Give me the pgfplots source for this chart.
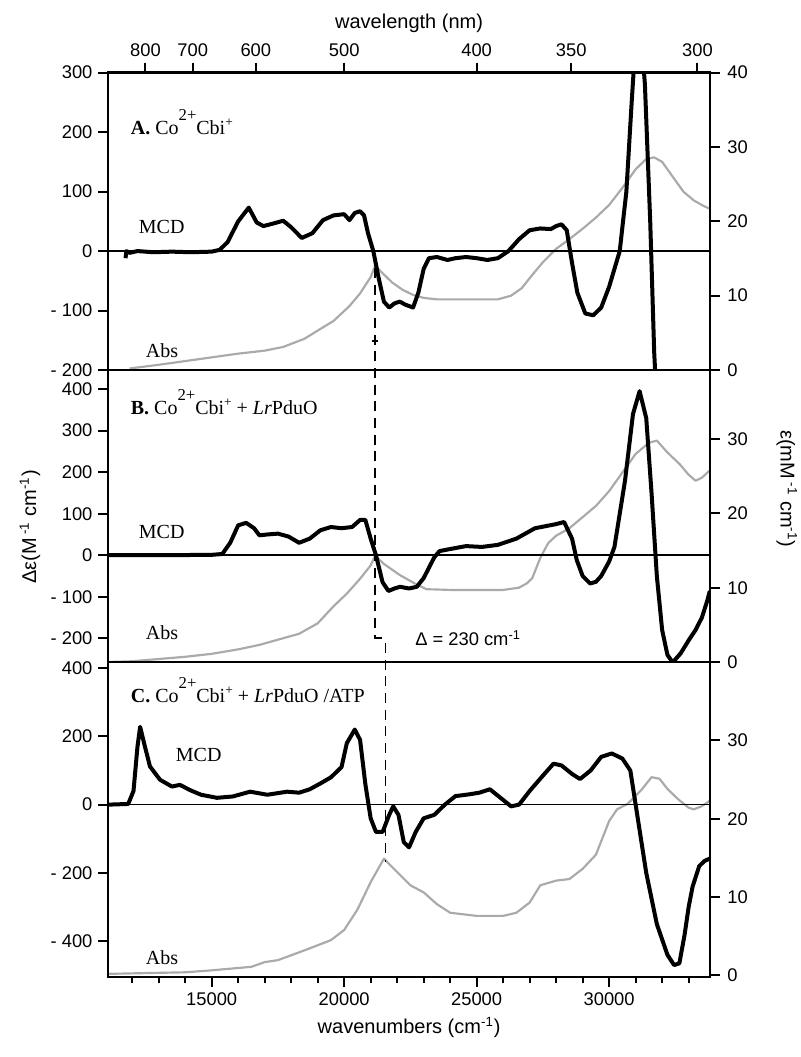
\documentclass[border=0pt]{standalone}
\usepackage{fontspec}
\setmainfont{Liberation Sans}
\newfontfamily\tnr{Liberation Serif}
\usepackage{pgfplots}
\pgfplotsset{compat=1.18}
\definecolor{absgray}{RGB}{170,170,170}
\newcommand{\supA}[1]{\raisebox{8.5pt}{\fontsize{10}{10}\selectfont #1}}
\newcommand{\supB}[1]{\raisebox{5pt}{\fontsize{8}{8}\selectfont #1}}
\pgfplotsset{
  panel/.style={
    scale only axis, width=360.9pt, xmin=11100, xmax=33800,
    scaled x ticks=false, scaled y ticks=false,
    axis line style={line width=1.4pt},
    tick style={line width=1.2pt, black},
    tick align=outside,
    major tick length=6pt,
    minor tick length=3.5pt,
    ticklabel style={font=\fontsize{11}{11}\selectfont},
    /pgf/number format/assume math mode=true,
    anchor=south west,
  },
  mcd/.style={black, line width=2.4pt, line join=round},
  abs/.style={absgray, line width=1.3pt, line join=round},
  rightax/.style={panel, axis x line=none, axis y line*=right, ymin=0, ymax=40,
    yticklabel style={xshift=1pt}},
}
\begin{document}
\begin{tikzpicture}
\path[use as bounding box] (-65pt,-48pt) rectangle (415pt,586.2pt);
% ---------------- Panel A ----------------
\begin{axis}[rightax, at={(0pt,364.2pt)}, height=178.4pt, ytick={0,10,20,30,40}]
\addplot[abs] coordinates {(11900,0.2)(13000,0.7)(14000,1.2)(15000,1.7)(16000,2.2)(17000,2.6)(17700,3.1)(18500,4.2)(19000,5.3)(19600,6.6)(20200,8.6)(20600,10.3)(21000,12.5)(21165,14)(21400,13.2)(21800,11.8)(22200,10.8)(22600,10.1)(23000,9.7)(23500,9.5)(24000,9.5)(25000,9.5)(25800,9.5)(26300,10)(26700,11)(27100,12.8)(27500,14.5)(28000,16.3)(28500,17.6)(29000,19)(29500,20.5)(30000,22.2)(30500,24.5)(31000,27)(31400,28.4)(31700,28.6)(32000,28)(32400,26)(32800,24)(33200,22.8)(33600,22)(33800,21.7)};
\end{axis}
\begin{axis}[panel, at={(0pt,364.2pt)}, height=178.4pt, ymin=-200, ymax=300,
  ytick={-200,-100,0,100,200,300}, yticklabels={- 200,- 100,0,100,200,300}, ytick pos=left,
  xtick={12500,14285.7,16666.7,20000,25000,28571.4,33333.3},
  xticklabels={800,700,600,500,400,350,300}, xtick pos=top, xticklabel pos=top,
  xlabel={wavelength (nm)}, xlabel style={font=\fontsize{12}{12}\selectfont}]
\addplot[black, line width=0.9pt] coordinates {(11100,0)(33800,0)};
\addplot[mcd] coordinates {(11750,-12)(11780,0)(11900,-3)(12200,0)(12800,-2)(13500,-1)(14200,-2)(15000,-1)(15300,2)(15600,15)(16000,50)(16400,73)(16700,48)(16950,42)(17300,46)(17700,51)(18000,40)(18400,22)(18800,30)(19200,52)(19600,60)(20000,62)(20200,52)(20400,64)(20600,67)(20750,60)(20900,30)(21100,0)(21300,-45)(21500,-85)(21700,-95)(21900,-88)(22100,-85)(22300,-90)(22600,-95)(22800,-70)(23000,-30)(23200,-12)(23500,-10)(23900,-15)(24200,-12)(24600,-10)(25000,-12)(25400,-15)(25800,-12)(26200,0)(26600,20)(27000,35)(27400,38)(27800,37)(28000,42)(28200,45)(28400,35)(28600,-20)(28800,-70)(29100,-105)(29400,-108)(29700,-95)(30000,-60)(30400,0)(30650,100)(30850,250)(30950,320)(31150,400)(31350,280)(31550,50)(31700,-170)(31800,-260)};
\end{axis}
% ---------------- Panel B ----------------
\begin{axis}[rightax, at={(0pt,189pt)}, height=175.2pt, ymax=39.3, ytick={0,10,20,30}]
\addplot[abs] coordinates {(11100,0)(12000,0.1)(13000,0.4)(14000,0.7)(15000,1.1)(16000,1.7)(16800,2.3)(17500,3.0)(18300,3.8)(19000,5.2)(19600,7.5)(20100,9.2)(20600,11.2)(21000,13)(21165,14.3)(21500,13.2)(22100,11.7)(22700,10.5)(23100,9.8)(24000,9.7)(25000,9.7)(26000,9.7)(26600,10)(26900,10.6)(27100,11.3)(27400,14)(27700,16)(28000,17)(28500,18)(29000,19.5)(29500,21)(30000,23)(30500,25.5)(31000,28)(31500,29.5)(31800,29.8)(32200,28.2)(32670,26.6)(33000,25.2)(33260,24.4)(33500,24.8)(33800,25.8)};
\end{axis}
\begin{axis}[panel, at={(0pt,189pt)}, height=175.2pt, ymin=-257, ymax=446,
  ytick={-200,-100,0,100,200,300,400}, yticklabels={- 200,- 100,0,100,200,300,400}, ytick pos=left,
  xtick=\empty]
\addplot[black, line width=0.9pt] coordinates {(11100,0)(33800,0)};
\addplot[mcd] coordinates {(11100,0)(13000,0)(15000,1)(15400,3)(15700,30)(16000,72)(16300,78)(16600,65)(16800,48)(17100,50)(17500,52)(17900,45)(18300,30)(18700,40)(19100,60)(19500,68)(19900,65)(20300,68)(20600,85)(20800,85)(21000,40)(21200,0)(21450,-65)(21670,-86)(21900,-80)(22110,-76)(22450,-80)(22740,-76)(23000,-55)(23200,-30)(23400,-5)(23600,10)(24000,15)(24600,22)(25200,20)(25800,25)(26500,40)(27200,65)(27600,70)(28000,75)(28300,80)(28600,40)(28780,-12)(29000,-50)(29280,-68)(29500,-64)(29700,-50)(30000,-15)(30200,20)(30600,180)(30900,340)(31150,395)(31400,330)(31600,150)(31800,-50)(32000,-180)(32200,-240)(32400,-258)(32700,-236)(33000,-205)(33260,-180)(33500,-150)(33700,-110)(33800,-86)};
\end{axis}
% ---------------- Panel C ----------------
\begin{axis}[rightax, at={(0pt,0pt)}, height=189pt, ymin=-0.2, ymax=40, ytick={0,10,20,30}]
\addplot[abs] coordinates {(11100,0.2)(14000,0.4)(15000,0.65)(16500,1.1)(17000,1.7)(17500,1.95)(18500,3.2)(19500,4.5)(20000,5.8)(20500,8.4)(21000,11.9)(21500,14.9)(22000,13.2)(22500,11.5)(23000,10.6)(23500,9.1)(24000,8.0)(25000,7.6)(26000,7.6)(26500,8.0)(27000,9.3)(27400,11.5)(28000,12.1)(28500,12.3)(29000,13.6)(29500,15.4)(30000,19.7)(30300,21.2)(30700,21.9)(31200,23.6)(31600,25.3)(31900,25.1)(32200,23.8)(32600,22.5)(33000,21.4)(33200,21.2)(33500,21.6)(33800,22.3)};
\end{axis}
\begin{axis}[panel, at={(0pt,0pt)}, height=189pt, ymin=-505, ymax=418,
  ytick={-400,-200,0,200,400}, yticklabels={- 400,- 200,0,200,400}, ytick pos=left,
  xtick={15000,20000,25000,30000}, xticklabels={15000,20000,25000,30000},
  minor xtick={12000,13000,14000,16000,17000,18000,19000,21000,22000,23000,24000,26000,27000,28000,29000,31000,32000,33000},
  xtick pos=bottom,
  xlabel={wavenumbers (cm\textsuperscript{-1})}, xlabel style={font=\fontsize{12}{12}\selectfont}]
\addplot[black, line width=0.9pt] coordinates {(11100,0)(33800,0)};
\addplot[mcd] coordinates {(11100,0)(11850,2)(12050,40)(12200,170)(12300,228)(12450,180)(12670,112)(13050,73)(13500,53)(13800,58)(14200,42)(14600,29)(15200,20)(15800,24)(16450,38)(17100,29)(17850,38)(18300,35)(18700,45)(19100,62)(19500,80)(19900,110)(20100,180)(20400,220)(20600,190)(20800,60)(21000,-40)(21200,-80)(21450,-80)(21700,-30)(21850,-5)(22050,-30)(22250,-110)(22450,-125)(22700,-80)(23000,-40)(23400,-30)(23800,0)(24200,25)(24700,30)(25100,35)(25500,45)(25900,20)(26300,-5)(26600,0)(27000,40)(27500,85)(27900,120)(28200,115)(28600,90)(28900,75)(29300,100)(29700,140)(30100,150)(30500,135)(30800,100)(31100,-50)(31400,-200)(31800,-350)(32200,-440)(32450,-470)(32650,-465)(32850,-380)(33000,-300)(33150,-240)(33400,-180)(33600,-165)(33800,-158)};
\end{axis}
% ---------------- annotations ----------------
\node[rotate=90, font=\fontsize{12}{12}\selectfont] at (-47pt,270pt) {Δε(M\textsuperscript{ -1} cm\textsuperscript{-1})};
\node[rotate=-90, font=\fontsize{12}{12}\selectfont] at (407pt,293pt) {ε(mM\textsuperscript{ -1} cm\textsuperscript{-1})};
\draw[line width=0.7pt, dash pattern=on 6pt off 4pt] (160pt,425.4pt) -- (160pt,203.4pt) -- (167.2pt,203.4pt);
\draw[line width=0.7pt, dash pattern=on 6pt off 4pt] (166.2pt,200.4pt) -- (166.2pt,69pt);
\draw[line width=0.7pt] (158pt,381.6pt) -- (162pt,381.6pt);
\node[font=\fontsize{11}{11}\selectfont] at (215.8pt,203.4pt) {Δ = 230 cm\textsuperscript{-1}};
\node[anchor=base west, font=\tnr\fontsize{12}{12}\selectfont] at (10pt,505.2pt) {\textbf{A.} Co\supA{2+}Cbi\supB{+}};
\node[anchor=base west, font=\tnr\fontsize{12}{12}\selectfont] at (10pt,337.2pt) {\textbf{B.} Co\supA{2+}Cbi\supB{+} + \textit{Lr}PduO};
\node[anchor=base west, font=\tnr\fontsize{12}{12}\selectfont] at (10pt,164.4pt) {\textbf{C.} Co\supA{2+}Cbi\supB{+} + \textit{Lr}PduO /ATP};
\node[anchor=west, font=\tnr\fontsize{12}{12}\selectfont] at (14.8pt,450pt) {MCD};
\node[anchor=west, font=\tnr\fontsize{12}{12}\selectfont] at (14.8pt,267pt) {MCD};
\node[anchor=west, font=\tnr\fontsize{12}{12}\selectfont] at (37pt,133.2pt) {MCD};
\node[anchor=west, font=\tnr\fontsize{12}{12}\selectfont] at (19pt,375.6pt) {Abs};
\node[anchor=west, font=\tnr\fontsize{12}{12}\selectfont] at (19pt,206.4pt) {Abs};
\node[anchor=west, font=\tnr\fontsize{12}{12}\selectfont] at (19pt,11.4pt) {Abs};
\end{tikzpicture}
\end{document}
